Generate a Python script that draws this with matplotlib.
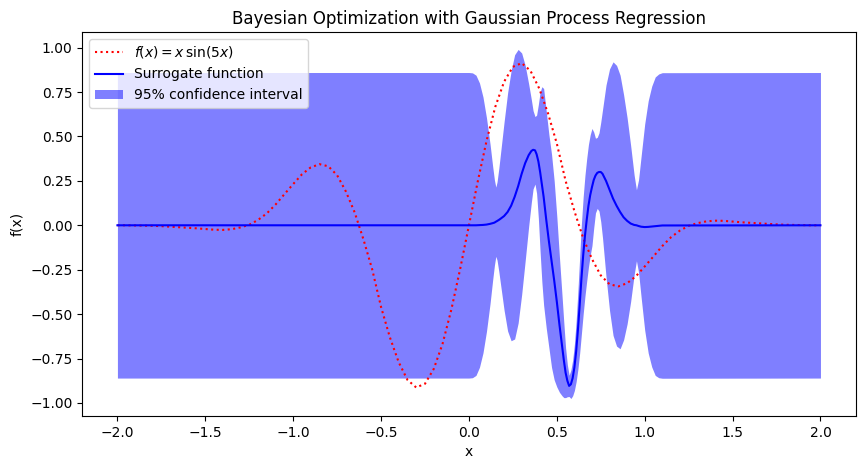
import numpy as np
import matplotlib
matplotlib.use("Agg")
import matplotlib.pyplot as plt

# objective f(x) at 0.05 steps
x_true = np.round(np.arange(-2.0, 2.0001, 0.05), 2)
f_left = [0.0, 0.0, -0.001, -0.002, -0.003, -0.005, -0.008, -0.011, -0.014, -0.017,
          -0.021, -0.025, -0.026, -0.022, -0.012, 0.003, 0.03, 0.067, 0.117, 0.175,
          0.232, 0.287, 0.326, 0.344, 0.332, 0.282, 0.19, 0.072, -0.08, -0.25,
          -0.46, -0.63, -0.77, -0.87, -0.913, -0.892, -0.808, -0.667, -0.474, -0.246]
f_right = [0.246, 0.474, 0.667, 0.808, 0.892, 0.913, 0.87, 0.77, 0.63, 0.46,
           0.25, 0.08, -0.072, -0.19, -0.282, -0.332, -0.344, -0.326, -0.287, -0.232,
           -0.175, -0.117, -0.067, -0.03, -0.003, 0.012, 0.022, 0.026, 0.025, 0.021,
           0.017, 0.014, 0.011, 0.008, 0.005, 0.003, 0.002, 0.001, 0.0, 0.0]
f_true = f_left + [0.0] + f_right

# surrogate mean and 95% half-width of the band
x_gp = [-2.0, 0.0, 0.02, 0.04, 0.06, 0.08, 0.10, 0.12, 0.135, 0.145,
        0.153, 0.16, 0.17, 0.18, 0.20, 0.22, 0.24, 0.26, 0.28, 0.30,
        0.32, 0.34, 0.355, 0.365, 0.376, 0.385, 0.395, 0.405, 0.415, 0.425,
        0.44, 0.455, 0.47, 0.485, 0.50, 0.515, 0.53, 0.54, 0.55, 0.56,
        0.57, 0.58, 0.59, 0.60, 0.61, 0.62, 0.63, 0.64, 0.65, 0.66,
        0.67, 0.68, 0.69, 0.70, 0.71, 0.72, 0.73, 0.74, 0.75, 0.76,
        0.78, 0.80, 0.82, 0.84, 0.86, 0.88, 0.90, 0.92, 0.94, 0.953,
        0.965, 0.98, 1.00, 1.02, 1.04, 1.06, 1.08, 1.10, 2.0]
mean = [0.0, 0.0, 0.0, 0.0, 0.001, 0.002, 0.004, 0.008, 0.012, 0.015,
        0.02, 0.024, 0.03, 0.037, 0.052, 0.075, 0.11, 0.16, 0.22, 0.29,
        0.35, 0.395, 0.418, 0.425, 0.422, 0.40, 0.36, 0.30, 0.23, 0.16,
        0.03, -0.09, -0.20, -0.31, -0.43, -0.56, -0.68, -0.76, -0.83, -0.875,
        -0.904, -0.895, -0.86, -0.80, -0.71, -0.59, -0.45, -0.30, -0.17, -0.06,
        0.03, 0.11, 0.17, 0.215, 0.255, 0.28, 0.295, 0.30, 0.30, 0.29,
        0.25, 0.20, 0.15, 0.11, 0.075, 0.045, 0.025, 0.01, 0.002, 0.0,
        -0.004, -0.008, -0.01, -0.009, -0.007, -0.005, -0.003, -0.001, 0.0]
half = [0.86, 0.86, 0.858, 0.845, 0.80, 0.72, 0.60, 0.45, 0.32, 0.24,
        0.195, 0.22, 0.29, 0.37, 0.53, 0.67, 0.76, 0.80, 0.77, 0.68,
        0.55, 0.40, 0.29, 0.22, 0.19, 0.22, 0.32, 0.45, 0.55, 0.61,
        0.61, 0.60, 0.60, 0.56, 0.48, 0.38, 0.28, 0.21, 0.14, 0.09,
        0.06, 0.08, 0.10, 0.13, 0.17, 0.22, 0.27, 0.31, 0.33, 0.34,
        0.345, 0.345, 0.34, 0.33, 0.27, 0.21, 0.20, 0.22, 0.28, 0.36,
        0.54, 0.68, 0.77, 0.79, 0.77, 0.69, 0.58, 0.44, 0.28, 0.20,
        0.26, 0.40, 0.58, 0.71, 0.79, 0.84, 0.855, 0.86, 0.86]

mean = np.array(mean)
half = np.array(half)

fig, ax = plt.subplots(figsize=(8.66, 4.70), dpi=100)
fig.subplots_adjust(left=0.095, right=0.988, top=0.932, bottom=0.115)

ax.plot(x_true, f_true, 'r:', label=r'$f(x) = x\,\sin(5x)$')
ax.plot(x_gp, mean, 'b-', label='Surrogate function')
ax.fill_between(x_gp, mean - half, mean + half, color='b', alpha=0.5, linewidth=0,
                label='95% confidence interval')

ax.set_title('Bayesian Optimization with Gaussian Process Regression')
ax.set_xlabel('x')
ax.set_ylabel('f(x)')
ax.legend(loc='upper left')

fig.savefig('out.png', dpi=100)
